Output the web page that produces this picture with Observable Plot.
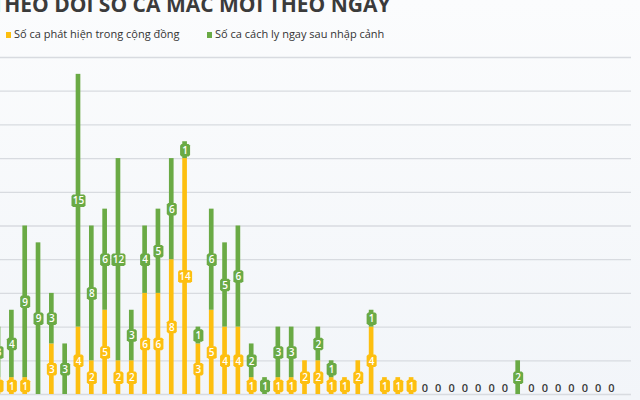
<!DOCTYPE html>
<html><head><meta charset="utf-8">
<script src="https://cdn.jsdelivr.net/npm/d3@7"></script>
<script src="https://cdn.jsdelivr.net/npm/@observablehq/plot@0.6"></script>
<style>
body{margin:0;background:#f5f7fb;}
#wrap{position:relative;width:640px;height:400px;overflow:hidden;background:linear-gradient(#fbfcfd,#f2f5f9);font-family:"Open Sans",sans-serif;}
#title{position:absolute;left:-8px;top:-6px;font-size:21px;line-height:20px;font-weight:700;color:#3b3b3b;white-space:nowrap;}
.leg{position:absolute;top:26px;font-size:11px;line-height:16px;color:#333;white-space:nowrap;}
.sw{display:inline-block;width:5px;height:6px;margin-right:3px;vertical-align:0px;}
#chart{position:absolute;left:-30px;top:45px;}
</style></head>
<body><div id="wrap">
<div id="title">THEO DÕI SỐ CA MẮC MỚI THEO NGÀY</div>
<div class="leg" style="left:6px"><span class="sw" style="background:#fdbf10"></span>Số ca phát hiện trong cộng đồng</div>
<div class="leg" style="left:207px"><span class="sw" style="background:#6aaa45"></span>Số ca cách ly ngay sau nhập cảnh</div>
<div id="chart"></div>
</div>
<script>
const seriesNames = ["Số ca phát hiện trong cộng đồng", "Số ca cách ly ngay sau nhập cảnh"];
const days = ["N1","N2","N3","N4","N5","N6","N7","N8","N9","N10","N11","N12","N13","N14","N15","N16","N17","N18","N19","N20","N21","N22","N23","N24","N25","N26","N27","N28","N29","N30","N31","N32","N33","N34","N35","N36","N37","N38","N39","N40","N41","N42","N43","N44","N45","N46","N47"];
const community = [1,1,1,0,3,0,4,2,5,2,2,6,6,8,14,3,5,4,4,1,0,1,1,2,2,1,1,2,4,1,1,1,0,0,0,0,0,0,0,0,0,0,0,0,0,0,0];
const quarantine = [3,4,9,9,3,3,15,8,6,12,3,4,5,6,1,1,6,5,6,2,1,3,3,0,2,1,0,0,1,0,0,0,0,0,0,0,0,0,0,2,0,0,0,0,0,0,0];
const gridTicks = [0,2,4,6,8,10,12,14,16,18,20];
const colors = ["#fdbf10", "#6aaa45"];

const rows = [];
days.forEach((d, i) => {
  const c = community[i], q = quarantine[i];
  rows.push({day: d, series: seriesNames[0], value: c, y1: 0, y2: c});
  rows.push({day: d, series: seriesNames[1], value: q, y1: c, y2: c + q});
});
const labeled = rows.filter(r => r.value > 0).map(r => ({...r, mid: (r.y1 + r.y2) / 2, txt: String(r.value)}));
const zeros = days.map((d, i) => ({day: d, total: community[i] + quarantine[i]})).filter(r => r.total === 0);

function box(w, h) {
  const c = 1.5;
  return {draw(ctx) {
    const x0 = -w/2, x1 = w/2, y0 = -h/2, y1 = h/2;
    ctx.moveTo(x0 + c, y0); ctx.lineTo(x1 - c, y0); ctx.lineTo(x1, y0 + c);
    ctx.lineTo(x1, y1 - c); ctx.lineTo(x1 - c, y1); ctx.lineTo(x0 + c, y1);
    ctx.lineTo(x0, y1 - c); ctx.lineTo(x0, y0 + c); ctx.closePath();
  }};
}
const one = labeled.filter(r => r.txt.length === 1);
const two = labeled.filter(r => r.txt.length === 2);

const plot = Plot.plot({
  width: 670, height: 355,
  marginTop: 12, marginBottom: 6, marginLeft: 8, marginRight: 9,
  x: {type: "band", domain: days, paddingInner: 0.65, paddingOuter: 1.33, round: false, axis: null},
  y: {domain: [0, 20], axis: null},
  color: {domain: seriesNames, range: colors},
  style: {background: "transparent", fontFamily: "Open Sans, sans-serif"},
  marks: [
    Plot.ruleY(gridTicks, {stroke: "#d8dbe0", strokeWidth: 1.3}),
    Plot.barY(rows, {x: "day", y1: "y1", y2: "y2", fill: "series"}),
    Plot.dot(one, {x: "day", y: "mid", fill: "series", stroke: null, symbol: box(10, 12.5), r: 5}),
    Plot.dot(two, {x: "day", y: "mid", fill: "series", stroke: null, symbol: box(14, 12.5), r: 5}),
    Plot.text(labeled, {x: "day", y: "mid", text: "txt", fill: "white", fontSize: 10, fontWeight: 600, dy: 0.5}),
    Plot.text(zeros, {x: "day", y: () => 0.38, text: "total", fill: "#3a3a3a", fontSize: 11, fontWeight: 600})
  ]
});
document.getElementById("chart").appendChild(plot);
</script>
</body></html>
